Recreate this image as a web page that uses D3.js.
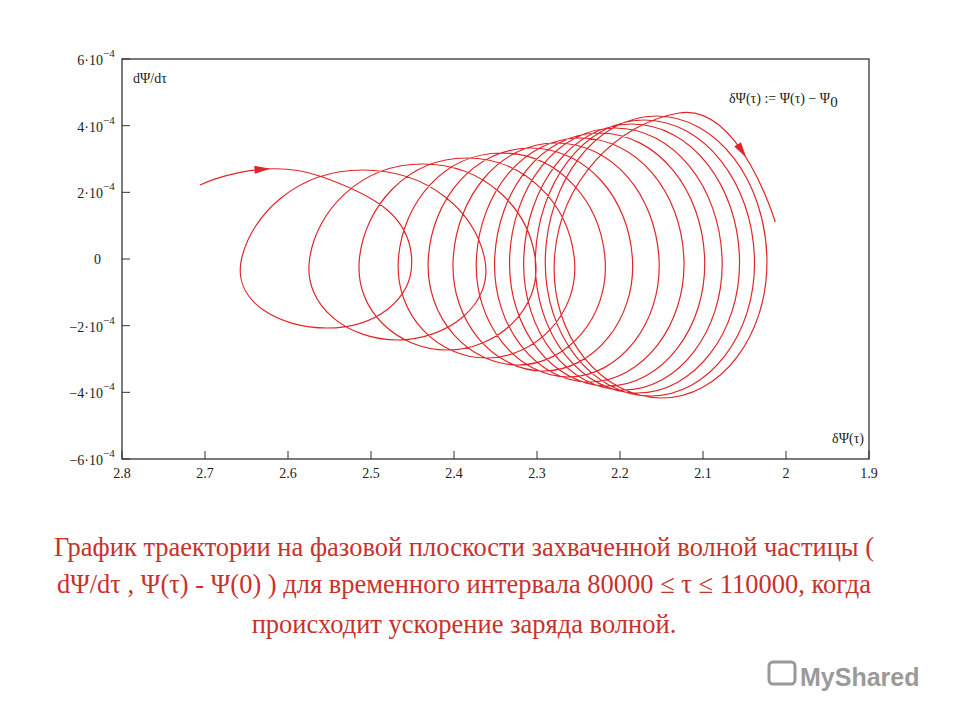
<!DOCTYPE html>
<html><head><meta charset="utf-8">
<script src="https://cdn.jsdelivr.net/npm/d3@7"></script>
<style>body{margin:0;background:#fff}text{font-family:"Liberation Serif","Times New Roman",serif}</style>
</head><body><svg id="c" width="960" height="720"></svg>
<script>
// trajectory key points (δΨ, dΨ/dτ in 1e-4)
const startPt = [2.706, 2.22];
const topX = [2.562,2.510,2.438,2.385,2.343,2.308,2.277,2.248,2.225,2.206,2.186,2.171,2.156,2.129];
const topY = [2.49,2.67,2.85,3.03,3.18,3.33,3.48,3.63,3.78,3.93,4.05,4.17,4.29,4.38];
const rightX = [2.451,2.363,2.302,2.255,2.218,2.185,2.153,2.123,2.098,2.077,2.056,2.038,2.023];
const botX = [2.553,2.468,2.408,2.361,2.323,2.292,2.262,2.237,2.215,2.196,2.179,2.163,2.150];
const botY = [-2.07,-2.43,-2.73,-2.97,-3.18,-3.36,-3.54,-3.69,-3.81,-3.93,-4.02,-4.11,-4.17];
const leftX = [2.656,2.574,2.514,2.467,2.431,2.401,2.373,2.351,2.333,2.316,2.302,2.290,2.279];
const endPt = [2.013, 1.11];
const xTicks = [2.8,2.7,2.6,2.5,2.4,2.3,2.2,2.1,2,1.9];
const yTicks = [-6,-4,-2,0,2,4,6];

const svg = d3.select("#c");
const x = d3.scaleLinear().domain([2.8,1.9]).range([122,869]);
const y = d3.scaleLinear().domain([-6,6]).range([459,59]);

const pts = [startPt];
for (let k=0;k<rightX.length;k++){
  pts.push([topX[k],topY[k]]);
  pts.push([rightX[k],0]);
  pts.push([botX[k],botY[k]]);
  pts.push([leftX[k],0]);
}
pts.push([topX[topX.length-1],topY[topY.length-1]]);
pts.push(endPt);

const line = d3.line().x(d=>x(d[0])).y(d=>y(d[1])).curve(d3.curveCardinal.tension(-0.65));
svg.append("path").attr("d",line(pts)).attr("fill","none")
  .attr("stroke","#e0262a").attr("stroke-width",1.2);

function arrowOn(seg, frac){
  const tmp = svg.append("path").attr("d",line(seg)).attr("fill","none");
  const n=tmp.node(), L=n.getTotalLength();
  const p=n.getPointAtLength(L*frac), q=n.getPointAtLength(L*frac+2);
  tmp.remove();
  const ang=Math.atan2(q.y-p.y,q.x-p.x)*180/Math.PI;
  svg.append("path").attr("d","M6,0L-10,-4L-10,4Z").attr("fill","#e0262a")
    .attr("transform",`translate(${p.x},${p.y}) rotate(${ang})`);
}
arrowOn(pts.slice(0,4),0.18);
arrowOn(pts.slice(pts.length-4),0.86);

svg.append("rect").attr("x",122).attr("y",59).attr("width",747).attr("height",400)
  .attr("fill","none").attr("stroke","#333").attr("stroke-width",1.3);
const g=svg.append("g");
xTicks.forEach(t=>{
  g.append("line").attr("x1",x(t)).attr("x2",x(t)).attr("y1",459).attr("y2",451).attr("stroke","#333");
  g.append("text").attr("x",x(t)).attr("y",478).attr("text-anchor","middle").attr("font-size",14).attr("fill","#222").text(t===2?"2":t.toFixed(1));
});
yTicks.forEach(t=>{
  g.append("line").attr("x1",122).attr("x2",130).attr("y1",y(t)).attr("y2",y(t)).attr("stroke","#333");
  if(t===0){g.append("text").attr("x",101).attr("y",y(t)+5).attr("text-anchor","end").attr("font-size",14).attr("fill","#222").text("0");}
  else{
    g.append("text").attr("x",103).attr("y",y(t)+6).attr("text-anchor","end").attr("font-size",14).attr("fill","#222")
      .text((t<0?"\u2212":"")+Math.abs(t)+"\u00b710");
    g.append("text").attr("x",103).attr("y",y(t)-2).attr("font-size",11).attr("fill","#222").text("\u22124");
  }
});
svg.append("text").attr("x",133).attr("y",83).attr("font-size",14).attr("fill","#222").text("d\u03a8/d\u03c4");
svg.append("text").attr("x",864).attr("y",443).attr("text-anchor","end").attr("font-size",14).attr("fill","#222").text("\u03b4\u03a8(\u03c4)");
const lt=svg.append("text").attr("x",729).attr("y",103).attr("font-size",14).attr("fill","#222");
lt.append("tspan").text("\u03b4\u03a8(\u03c4) := \u03a8(\u03c4) \u2212 \u03a8");
lt.append("tspan").attr("dy",4).attr("font-size",15).text("0");

const cap=["График траектории на фазовой плоскости захваченной волной частицы (",
 "dΨ/dτ , Ψ(τ) - Ψ(0) ) для временного интервала 80000 ≤ τ ≤ 110000, когда",
 "происходит ускорение заряда волной."];
const cy=[556,593,633];
cap.forEach((c,i)=>svg.append("text").attr("x",464).attr("y",cy[i]).attr("text-anchor","middle")
  .attr("font-size",26.5).attr("fill","#c8322d").text(c));

svg.append("rect").attr("x",769).attr("y",662).attr("width",26).attr("height",22).attr("rx",4).attr("fill","none").attr("stroke","#999").attr("stroke-width",3);
svg.append("text").attr("x",800).attr("y",686).style("font-family","Liberation Sans,Arial,sans-serif").style("font-weight","bold").attr("font-size",25).attr("fill","#9a9a9a").text("MyShared");
</script></body></html>
